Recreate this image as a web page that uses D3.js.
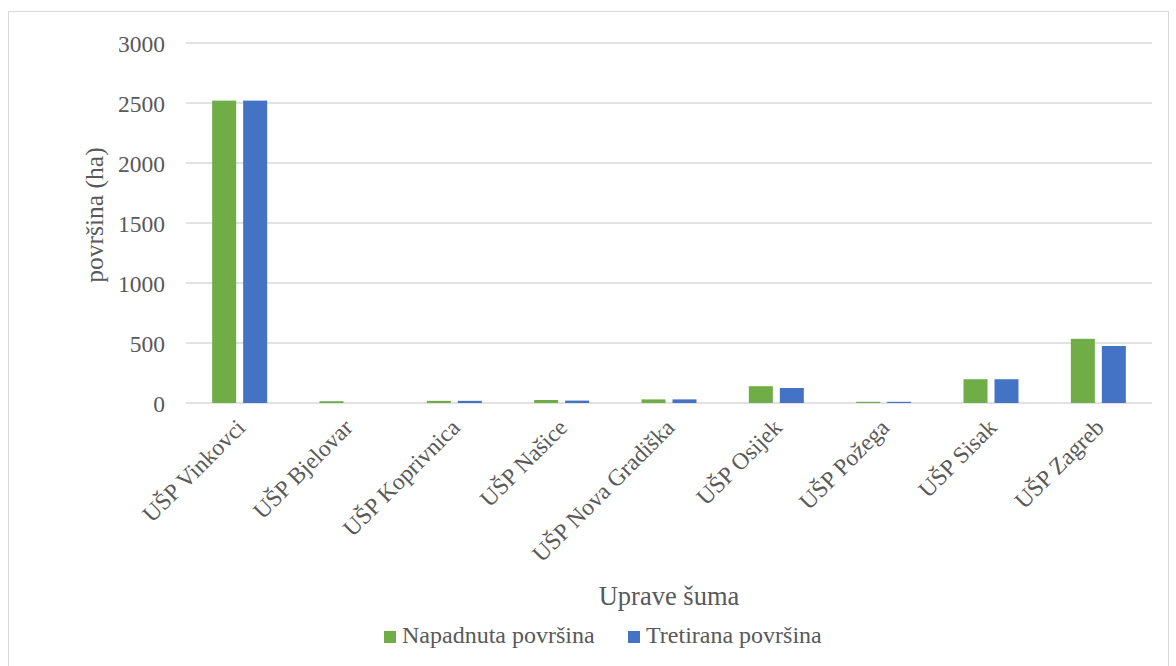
<!DOCTYPE html>
<html>
<head>
<meta charset="utf-8">
<script src="https://cdnjs.cloudflare.com/ajax/libs/d3/7.8.5/d3.min.js"></script>
<style>
  body { margin: 0; background: #fff; }
  text { font-family: "Liberation Serif", "Times New Roman", serif; fill: #595959; }
</style>
</head>
<body>
<svg id="chart"></svg>
<script>
const categories = ['UŠP Vinkovci', 'UŠP Bjelovar', 'UŠP Koprivnica', 'UŠP Našice', 'UŠP Nova Gradiška', 'UŠP Osijek', 'UŠP Požega', 'UŠP Sisak', 'UŠP Zagreb'];
const napadnuta = [2520, 15, 18, 25, 30, 140, 10, 198, 535];
const tretirana = [2520, 0, 18, 20, 30, 125, 10, 198, 475];
const seriesNames = ['Napadnuta površina', 'Tretirana površina'];
const colors = ['#70ad47', '#4472c4'];
const yTicks = [0, 500, 1000, 1500, 2000, 2500, 3000];

const W = 1176, H = 666;
const svg = d3.select('#chart').attr('width', W).attr('height', H);

// chart border
svg.append('rect')
  .attr('x', 8.5).attr('y', 11.5)
  .attr('width', 1160).attr('height', 700)
  .attr('fill', 'none').attr('stroke', '#d9d9d9');

const xScale = d3.scaleBand()
  .domain(categories)
  .range([186, 1152]);

const yScale = d3.scaleLinear()
  .domain([0, 3000])
  .range([403, 43]);

// gridlines
svg.append('g')
  .selectAll('line')
  .data(yTicks)
  .join('line')
  .attr('x1', 186).attr('x2', 1152)
  .attr('y1', d => yScale(d)).attr('y2', d => yScale(d))
  .attr('stroke', '#d9d9d9').attr('stroke-width', 1.3);

// y tick labels
svg.append('g')
  .selectAll('text')
  .data(yTicks)
  .join('text')
  .attr('x', 165)
  .attr('y', d => yScale(d) + 8.5)
  .attr('text-anchor', 'end')
  .style('font-size', '23.5px')
  .text(d => d);

// bars
const barW = 24, gap = 7;
const series = [napadnuta, tretirana];
series.forEach((vals, s) => {
  svg.append('g')
    .selectAll('rect')
    .data(vals.map((v, i) => ({ cat: categories[i], v })))
    .join('rect')
    .attr('x', d => xScale(d.cat) + xScale.bandwidth() / 2 - gap / 2 - barW + s * (barW + gap))
    .attr('y', d => yScale(d.v))
    .attr('width', barW)
    .attr('height', d => yScale(0) - yScale(d.v))
    .attr('fill', colors[s]);
});

// x labels
svg.append('g')
  .selectAll('text')
  .data(categories)
  .join('text')
  .attr('transform', d => `translate(${xScale(d) + xScale.bandwidth() / 2 + 7}, 429) rotate(-45)`)
  .attr('text-anchor', 'end')
  .style('font-size', '23.5px')
  .text(d => d);

// axis titles
svg.append('text')
  .attr('transform', 'translate(103, 215) rotate(-90)')
  .attr('text-anchor', 'middle')
  .style('font-size', '25.5px')
  .text('površina (ha)');

svg.append('text')
  .attr('x', 669).attr('y', 605)
  .attr('text-anchor', 'middle')
  .style('font-size', '26.5px')
  .text('Uprave šuma');

// legend
const legendX = [384, 628];
seriesNames.forEach((name, i) => {
  svg.append('rect')
    .attr('x', legendX[i]).attr('y', 631)
    .attr('width', 12).attr('height', 12)
    .attr('fill', colors[i]);
  svg.append('text')
    .attr('x', legendX[i] + 18).attr('y', 643)
    .style('font-size', '24px')
    .text(name);
});
</script>
</body>
</html>
